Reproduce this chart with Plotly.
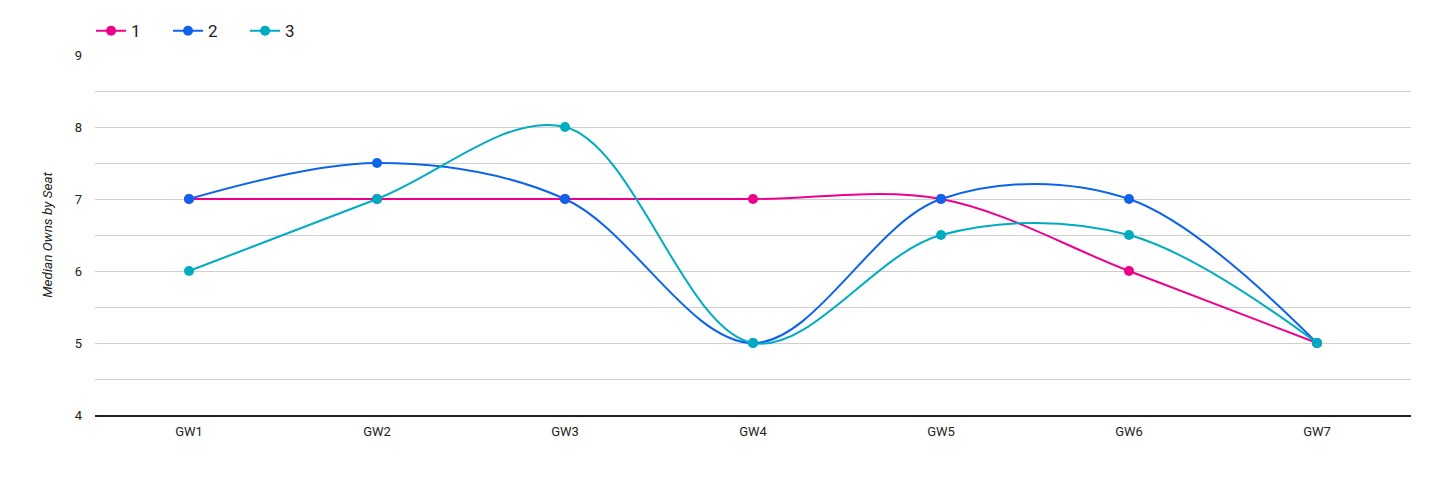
import plotly.graph_objects as go

categories = ["GW1", "GW2", "GW3", "GW4", "GW5", "GW6", "GW7"]
series_names = ["1", "2", "3"]
s1 = [7, 7, 7, 7, 7, 6, 5]
s2 = [7, 7.5, 7, 5, 7, 7, 5]
s3 = [6, 7, 8, 5, 6.5, 6.5, 5]
colors = ["#ec008c", "#0d63ec", "#00acc1"]

fig = go.Figure()
for name, vals, c in zip(series_names, [s1, s2, s3], colors):
    fig.add_trace(go.Scatter(
        x=categories, y=vals, name=name, mode="lines+markers",
        line=dict(color=c, width=2, shape="spline", smoothing=1),
        marker=dict(color=c, size=10),
    ))

fig.update_layout(
    width=1456, height=486,
    margin=dict(l=87, r=53, t=47, b=79, autoexpand=False),
    paper_bgcolor="white", plot_bgcolor="white",
    font=dict(family="Roboto", size=13, color="#222"),
    showlegend=True,
    legend=dict(orientation="h", x=-0.003, xanchor="left", y=1.066, yanchor="middle",
                font=dict(size=17, color="#222"), entrywidth=32, entrywidthmode="pixels",
                traceorder="normal"),
    xaxis=dict(type="category", range=[-0.5, 6.5], showgrid=False, showline=True,
               linecolor="#222", linewidth=1.5, ticks="", tickfont=dict(size=13, color="#222"),
               ticklabelstandoff=4, zeroline=False),
    yaxis=dict(range=[4, 9], dtick=1, showgrid=True, gridcolor="#cfcfcf", gridwidth=1,
               zeroline=False, showline=False, ticks="", tickfont=dict(size=13, color="#222"),
               ticklabelstandoff=12,
               minor=dict(dtick=0.5, showgrid=True, gridcolor="#cfcfcf", gridwidth=1),
               title=dict(text="<i>Median Owns by Seat</i>", font=dict(size=13.5, color="#222"), standoff=18)),
)
fig.write_html("out.html")
